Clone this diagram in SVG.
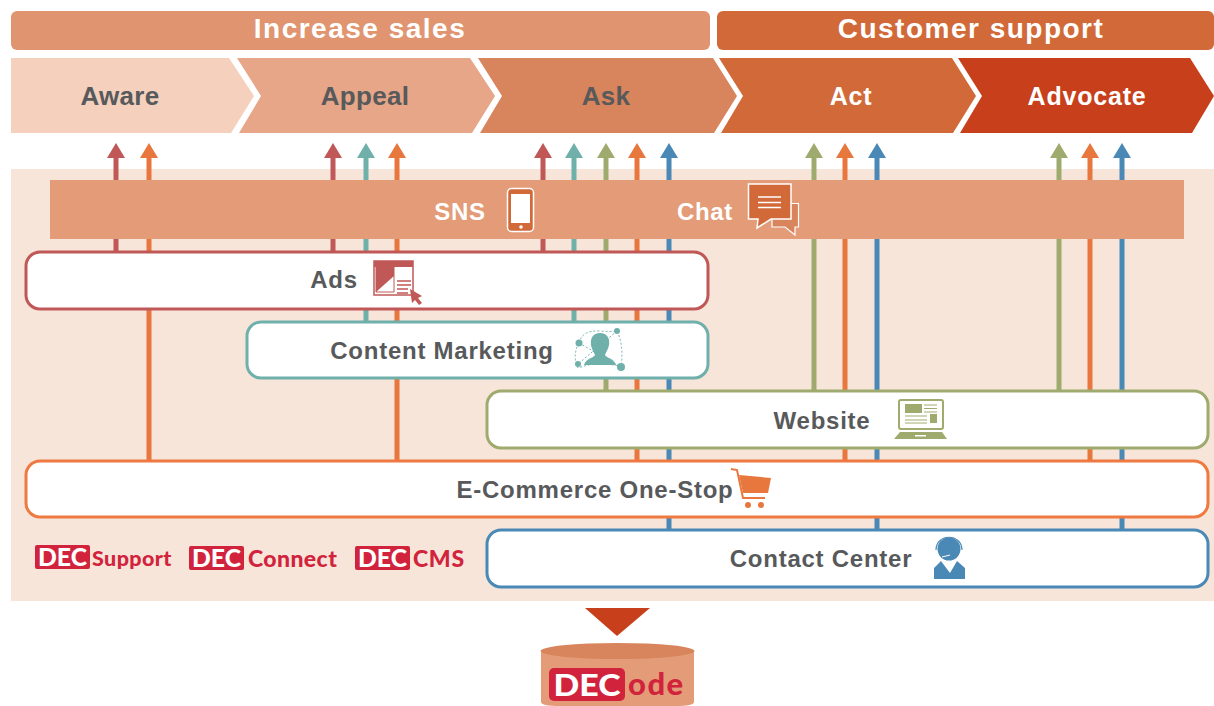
<svg xmlns="http://www.w3.org/2000/svg" width="1214" height="706" viewBox="0 0 1214 706">
<style>
text{font-family:"Liberation Sans",Arial,sans-serif;font-weight:bold;text-anchor:middle}
.w{fill:#fff}
.g{fill:#58595b;font-size:26px;letter-spacing:.3px}
.b{fill:#58595b;font-size:24px;letter-spacing:.75px}
.h{fill:#fff;font-size:28px;letter-spacing:1.5px}
.n{fill:#fff;font-size:24px;letter-spacing:.7px}
.box{fill:#fff;stroke-width:3}
.dt{fill:#fff;font-family:"Lato","Liberation Sans",sans-serif;font-weight:900;font-size:25px}
.dr{fill:#d2233c;font-family:"Lato","Liberation Sans",sans-serif;font-weight:900;font-size:23px;text-anchor:start}
.c{fill:none;stroke-width:5}
.r{stroke:#c05857}.o{stroke:#e8773d}.t{stroke:#6fb0ab}.v{stroke:#9fab6e}.u{stroke:#4a88b5}
.fr{fill:#c05857}.fo{fill:#e8773d}.ft{fill:#6fb0ab}.fv{fill:#9fab6e}.fu{fill:#4a88b5}
</style>
<defs>
<path id="head" d="M-9 158L0 143L9 158Z"/>
<g id="dec"><rect x="0" y="0" width="55" height="24" rx="2" fill="#d2233c"/><text class="dt" x="27.500" y="21" textLength="49" lengthAdjust="spacingAndGlyphs">DEC</text></g>
</defs>
<rect id="backdrop" x="11" y="169" width="1203" height="432" fill="#f7e5da"/>
<g id="phase-increase"><rect x="11" y="11" width="699" height="39" rx="6" fill="#e09570"/><text class="h" x="360" y="38">Increase sales</text></g>
<g id="phase-support"><rect x="717" y="11" width="497" height="39" rx="6" fill="#d16a38"/><text class="h" x="971" y="38">Customer support</text></g>
<g id="aware"><path d="M11 58H229L254 96L231 133H11Z" fill="#f4d0bd"/><text class="g" x="120" y="105">Aware</text></g>
<g id="appeal"><path d="M237 58H470L495 96L472 133H239L261 96Z" fill="#e6a687"/><text class="g" x="365" y="105">Appeal</text></g>
<g id="ask"><path d="M478 58H713L737 96L714 133H480L502 96Z" fill="#d8845c"/><text class="g" x="606" y="105">Ask</text></g>
<g id="act"><path d="M719 58H952L976 96L953 133H721L743 96Z" fill="#d16a38"/><text class="n" x="851" y="105" style="font-size:25px">Act</text></g>
<g id="advocate"><path d="M958 58H1190L1214 96V96L1192 133H960L982 96Z" fill="#c83f1b"/><text class="n" x="1087" y="105" style="font-size:25px;letter-spacing:.8px">Advocate</text></g>
<g id="connectors">
<path class="c r" d="M116 155V252M333 155V252M543 155V252"/>
<path class="c o" d="M149 155V461M397 155V461M637 155V461M845 155V461M1090 155V461"/>
<path class="c t" d="M366 155V322M574 155V322"/>
<path class="c v" d="M606 155V391M814 155V391M1059 155V391"/>
<path class="c u" d="M669 155V530M877 155V530M1122 155V530"/>
<use href="#head" x="116" class="fr"/><use href="#head" x="333" class="fr"/><use href="#head" x="543" class="fr"/>
<use href="#head" x="149" class="fo"/><use href="#head" x="397" class="fo"/><use href="#head" x="637" class="fo"/><use href="#head" x="845" class="fo"/><use href="#head" x="1090" class="fo"/>
<use href="#head" x="366" class="ft"/><use href="#head" x="574" class="ft"/>
<use href="#head" x="606" class="fv"/><use href="#head" x="814" class="fv"/><use href="#head" x="1059" class="fv"/>
<use href="#head" x="669" class="fu"/><use href="#head" x="877" class="fu"/><use href="#head" x="1122" class="fu"/>
</g>
<g id="sns-chat-band">
<rect x="50" y="180" width="1134" height="59" fill="#e39c77"/>
<text class="n" x="460" y="220">SNS</text>
<text class="n" x="705" y="220">Chat</text>
<rect x="507.500" y="188.500" width="26" height="43" rx="4" fill="#d16a38" stroke="#fff" stroke-width="1.500"/>
<rect x="511" y="194" width="19" height="29" fill="#fff"/><circle cx="521" cy="227" r="1.800" fill="#fff"/>
<path d="M780 203.500H798.500V227H795V235L785 227H772V215Z" fill="#d8845c" stroke="#fff" stroke-width="1.200"/>
<path d="M748.500 184H791V219H771L757 228L758 219H748.500Z" fill="#d16a38" stroke="#fff" stroke-width="1.500"/>
<path d="M758 197H781M758 202.500H781M758 207.500H781" stroke="#fff" stroke-width="1.500"/>
</g>
<g id="ads">
<rect class="box" x="26" y="252" width="682" height="57" rx="14" stroke="#c05857"/>
<text class="b" x="334" y="288">Ads</text>
<rect x="374" y="261" width="39" height="34" fill="#fff" stroke="#c05857" stroke-width="1.500"/>
<rect x="374" y="261" width="39" height="6" fill="#c05857"/>
<path d="M376 267H394V292H376Z" fill="#fff" stroke="#c05857"/>
<path d="M376 267H394V276L376 292Z" fill="#c05857"/>
<path d="M397 281H411M397 285H411M397 289H408M397 293H408" stroke="#c05857" stroke-width="1.300"/>
<path d="M410 289L422 296L418 298L422 303L419 305L415 300L412 303Z" fill="#c05857"/>
</g>
<g id="content-marketing">
<rect class="box" x="247" y="322" width="461" height="56" rx="14" stroke="#6fb0ab"/>
<text class="b" x="442" y="359">Content Marketing</text>
<path d="M579 343Q582 330 600 331Q610 332 617 331Q624 345 621 367Q600 360 578 368Q572 355 579 343Z M579 343L621 367M617 331L578 364" fill="none" stroke="#6fb0ab" stroke-width="1" stroke-dasharray="2 2"/>
<circle cx="579" cy="343" r="3.500" fill="#6fb0ab"/><circle cx="617" cy="331" r="3" fill="#6fb0ab"/><circle cx="578" cy="364" r="3" fill="#6fb0ab"/><circle cx="621" cy="367" r="4" fill="#6fb0ab"/>
<path d="M600 333C593 333 590 338 591 345C592 350 594 352 595 355C594 358 586 358 584 365H616C614 358 606 358 605 355C606 352 608 350 609 345C610 338 607 333 600 333Z" fill="#6fb0ab"/>
</g>
<g id="website">
<rect class="box" x="487" y="391" width="721" height="57" rx="14" stroke="#9fab6e"/>
<text class="b" x="822" y="429">Website</text>
<rect x="899" y="400" width="44" height="29" rx="2" fill="#fff" stroke="#9fab6e" stroke-width="2"/>
<rect x="905" y="404" width="17" height="9" fill="#9fab6e"/>
<path d="M924 405H937M924 408.500H937M924 412H937M905 416H927M905 420H927M905 423H927" stroke="#9fab6e" stroke-width="1.200"/>
<rect x="930" y="414" width="7" height="9" fill="#9fab6e"/>
<path d="M900 432H942L947 439H894Z" fill="#9fab6e"/><rect x="915" y="435" width="11" height="1.500" fill="#fff"/>
</g>
<g id="ecommerce">
<rect class="box" x="26" y="461" width="1182" height="56" rx="14" stroke="#ee7a41"/>
<text class="b" x="595" y="498">E-Commerce One-Stop</text>
<path d="M731 469L737 470L743 498H765" fill="none" stroke="#e8773d" stroke-width="2"/>
<path d="M739 475L771 478L768 493H743Z" fill="#e8773d"/>
<circle cx="748" cy="505" r="3" fill="#e8773d"/><circle cx="761" cy="505" r="3" fill="#e8773d"/>
</g>
<g id="contact-center">
<rect class="box" x="487" y="530" width="721" height="57" rx="14" stroke="#4a88b5"/>
<text class="b" x="821" y="567">Contact Center</text>
<circle cx="949" cy="549" r="11.500" fill="#4a88b5"/>
<path d="M936 550C936 533 962 533 962 550" fill="none" stroke="#4a88b5" stroke-width="1.200"/>
<path d="M942 557L950 555" stroke="#fff" stroke-width="1"/>
<path d="M941 561L934 568V579H965V568L957 561L950 573Z" fill="#4a88b5"/>
</g>
<g id="products">
<use href="#dec" x="35" y="545"/><text class="dr" x="92" y="566" style="font-size:21.500px;letter-spacing:.4px">Support</text>
<use href="#dec" x="189" y="546"/><text class="dr" x="248" y="567" style="letter-spacing:.4px">Connect</text>
<use href="#dec" x="355" y="546"/><text class="dr" x="413" y="567" style="letter-spacing:.7px">CMS</text>
</g>
<path id="down-arrow" d="M585 608H650L617 636Z" fill="#c83f1b"/>
<g id="decode">
<path d="M541 650V702Q541 706 560 706H675Q694 706 694 702V650Z" fill="#e39c77"/>
<ellipse cx="617.500" cy="651" rx="77" ry="8" fill="#d8845c"/>
<rect x="549" y="668" width="76" height="33" rx="5" fill="#d2233c"/>
<text class="dt" x="587" y="696" style="font-size:31px" textLength="67" lengthAdjust="spacingAndGlyphs">DEC</text>
<text class="dr" x="628" y="695" style="font-size:31px;letter-spacing:1.500px">ode</text>
</g>
</svg>
